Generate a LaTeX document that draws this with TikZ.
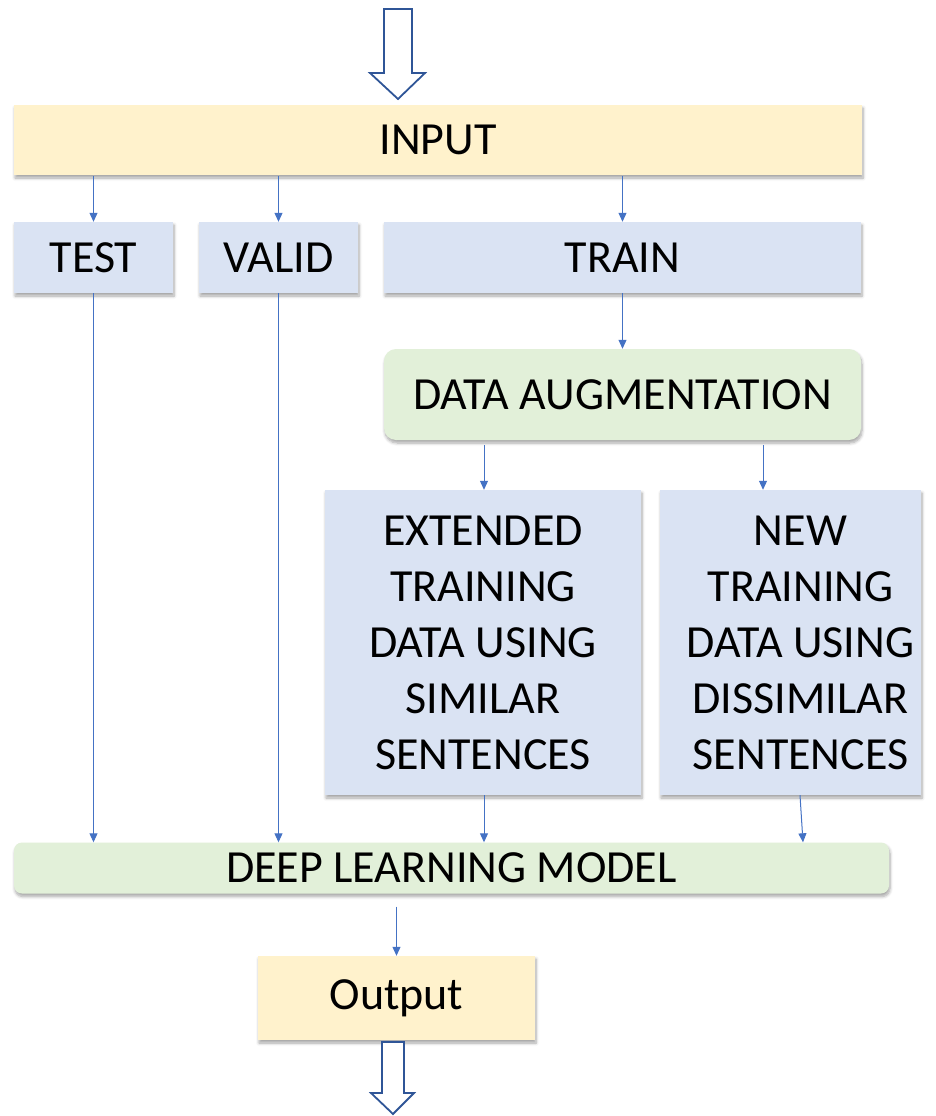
\documentclass[tikz,border=0pt]{standalone}
\usepackage{fontspec}
\setmainfont{Carlito}
\usetikzlibrary{arrows.meta,shadows.blur,calc}
\definecolor{inyel}{HTML}{FFF2CC}
\definecolor{boxblue}{HTML}{DAE3F3}
\definecolor{boxgreen}{HTML}{E2F0D9}
\definecolor{connblue}{HTML}{4472C4}
\definecolor{hollowblue}{HTML}{2F5597}
\tikzset{
  bigfont/.style={font=\fontsize{46}{56}\selectfont},
  base/.style={rectangle, inner sep=0pt, align=center, bigfont,
    blur shadow={shadow xshift=1pt, shadow yshift=-3pt, shadow blur steps=6, shadow blur radius=3pt, shadow opacity=35}},
  yelbox/.style={base, fill=inyel},
  bluebox/.style={base, fill=boxblue},
  greenbox/.style={base, fill=boxgreen, rounded corners=12pt},
  conn/.style={draw=connblue, line width=1pt, -{Triangle[length=9pt,width=8pt]}},
  hollow/.style={draw=hollowblue, line width=1.8pt, fill=white, line join=miter}
}
\begin{document}
\begin{tikzpicture}[x=1pt,y=-1pt]
\useasboundingbox (0,0) rectangle (935,1116);
% nodes
\node[yelbox, minimum width=848pt, minimum height=70pt] (input) at (438,140) {INPUT};
\node[bluebox, minimum width=159pt, minimum height=71pt] (test) at (93.5,257.5) {TEST};
\node[bluebox, minimum width=159pt, minimum height=71pt] (valid) at (278.5,257.5) {VALID};
\node[bluebox, minimum width=477pt, minimum height=71pt] (train) at (622.5,257.5) {TRAIN};
\node[greenbox, minimum width=477pt, minimum height=91pt] (aug) at (622.5,394.5) {DATA AUGMENTATION};
\node[bluebox, minimum width=316pt, minimum height=305pt] (ext) at (483,642.5) {EXTENDED\\TRAINING\\DATA USING\\SIMILAR\\SENTENCES};
\node[bluebox, minimum width=261pt, minimum height=305pt,
  label={[bigfont, align=center, inner sep=0pt, xshift=10pt]center:NEW\\TRAINING\\DATA USING\\DISSIMILAR\\SENTENCES}] (new) at (790.5,642.5) {};
\node[greenbox, rounded corners=8pt, minimum width=875pt, minimum height=51pt] (dlm) at (451.5,868) {DEEP LEARNING MODEL};
\node[yelbox, minimum width=277pt, minimum height=84pt] (out) at (396.5,998) {Output};
% hollow arrows
\draw[hollow] (384,9) -- (412,9) -- (412,73) -- (425,73) -- (398,99) -- (370,73) -- (384,73) -- cycle;
\draw[hollow] (382,1042) -- (404,1042) -- (404,1093) -- (414,1093) -- (393,1114) -- (371,1093) -- (382,1093) -- cycle;
% connectors
\coordinate (inb) at ([yshift=-1pt]input.south);
\draw[conn] (inb -| test.north) -- (test.north);
\draw[conn] (inb -| valid.north) -- (valid.north);
\draw[conn] (inb -| train.north) -- (train.north);
\draw[conn] (train.south) -- (aug.north);
\coordinate (augb) at ([yshift=-5pt]aug.south);
\coordinate (exta) at ([xshift=1pt]ext.north);
\coordinate (newa) at ([xshift=-27.5pt]new.north);
\draw[conn] (augb -| exta) -- (exta);
\draw[conn] (augb -| newa) -- (newa);
\draw[conn] (test.south) -- (test.south |- dlm.north);
\draw[conn] (valid.south) -- (valid.south |- dlm.north);
\coordinate (extb) at ([xshift=1pt]ext.south);
\draw[conn] (extb) -- (extb |- dlm.north);
\coordinate (newb) at ([xshift=9.5pt]new.south);
\coordinate (newc) at ([xshift=12.5pt]new.south);
\draw[conn] (newb) -- (newc |- dlm.north);
\coordinate (dlmb) at ([yshift=-13pt]dlm.south);
\draw[conn] (dlmb -| out.north) -- (out.north);
\end{tikzpicture}
\end{document}
